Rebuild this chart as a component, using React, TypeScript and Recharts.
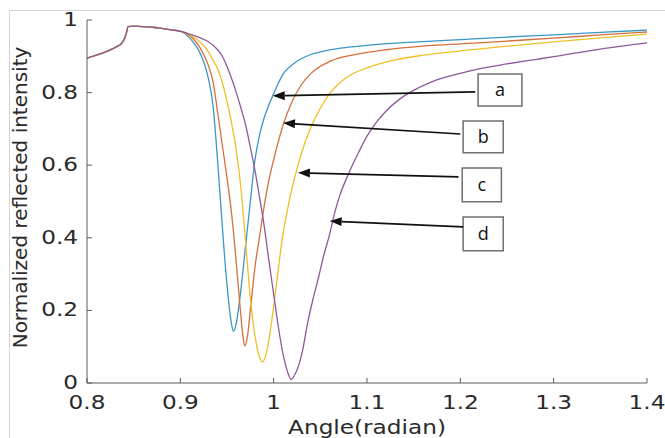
import React from "react";
import { LineChart, Line, XAxis, YAxis, ReferenceArea, ReferenceLine } from "recharts";

// part of the curve that all four samples share (before the resonance dip)
const sharedAngle = [0.8, 0.81, 0.82, 0.83, 0.835, 0.8375, 0.84, 0.842, 0.844, 0.85, 0.86, 0.87, 0.88, 0.89, 0.9];
const sharedIntensity = [0.895, 0.903, 0.912, 0.924, 0.931, 0.937, 0.948, 0.962, 0.982, 0.983, 0.982, 0.98, 0.977, 0.973, 0.969];

const angleA = [0.905, 0.91, 0.915, 0.92, 0.925, 0.93, 0.935, 0.94, 0.945, 0.95, 0.955, 0.957, 0.96, 0.965, 0.97, 0.975, 0.98, 0.985, 0.99, 0.995, 1.0, 1.005, 1.01, 1.02, 1.03, 1.04, 1.06, 1.08, 1.1, 1.15, 1.2, 1.25, 1.3, 1.35, 1.4];
const intensityA = [0.962, 0.95, 0.935, 0.915, 0.885, 0.84, 0.765, 0.61, 0.43, 0.27, 0.16, 0.142, 0.165, 0.26, 0.38, 0.5, 0.615, 0.685, 0.732, 0.767, 0.797, 0.826, 0.851, 0.877, 0.894, 0.905, 0.918, 0.925, 0.93, 0.939, 0.946, 0.953, 0.959, 0.966, 0.972];

const angleB = [0.905, 0.91, 0.915, 0.92, 0.925, 0.93, 0.935, 0.94, 0.945, 0.95, 0.955, 0.96, 0.964, 0.967, 0.969, 0.972, 0.975, 0.98, 0.985, 0.99, 0.995, 1.0, 1.005, 1.01, 1.02, 1.03, 1.04, 1.06, 1.09, 1.12, 1.16, 1.2, 1.25, 1.3, 1.35, 1.4];
const intensityB = [0.964, 0.957, 0.945, 0.928, 0.905, 0.875, 0.83, 0.745, 0.655, 0.565, 0.465, 0.33, 0.21, 0.13, 0.102, 0.13, 0.2, 0.32, 0.405, 0.49, 0.56, 0.615, 0.665, 0.71, 0.777, 0.823, 0.853, 0.886, 0.906, 0.918, 0.928, 0.934, 0.942, 0.95, 0.959, 0.967];

const angleC = [0.905, 0.91, 0.92, 0.93, 0.935, 0.94, 0.945, 0.95, 0.955, 0.96, 0.965, 0.97, 0.975, 0.98, 0.985, 0.988, 0.992, 0.995, 1.0, 1.005, 1.01, 1.015, 1.02, 1.025, 1.03, 1.04, 1.05, 1.06, 1.07, 1.08, 1.1, 1.13, 1.16, 1.2, 1.25, 1.3, 1.35, 1.4];
const intensityC = [0.965, 0.959, 0.942, 0.913, 0.89, 0.865, 0.828, 0.775, 0.715, 0.64, 0.535, 0.385, 0.235, 0.13, 0.07, 0.058, 0.08, 0.12, 0.21, 0.315, 0.41, 0.48, 0.54, 0.59, 0.635, 0.705, 0.757, 0.797, 0.825, 0.845, 0.868, 0.89, 0.903, 0.915, 0.928, 0.94, 0.951, 0.961];

const angleD = [0.91, 0.92, 0.93, 0.94, 0.945, 0.95, 0.955, 0.96, 0.965, 0.97, 0.975, 0.98, 0.985, 0.99, 0.995, 1.0, 1.005, 1.01, 1.015, 1.0186, 1.022, 1.027, 1.031, 1.036, 1.042, 1.048, 1.053, 1.06, 1.065, 1.07, 1.08, 1.09, 1.1, 1.11, 1.12, 1.135, 1.15, 1.17, 1.2, 1.225, 1.25, 1.28, 1.3, 1.35, 1.4];
const intensityD = [0.961, 0.952, 0.94, 0.918, 0.9, 0.872, 0.838, 0.8, 0.757, 0.71, 0.65, 0.585, 0.51, 0.43, 0.335, 0.245, 0.155, 0.08, 0.03, 0.01, 0.02, 0.05, 0.09, 0.16, 0.23, 0.29, 0.345, 0.41, 0.465, 0.51, 0.575, 0.63, 0.68, 0.718, 0.748, 0.782, 0.806, 0.83, 0.853, 0.868, 0.879, 0.891, 0.899, 0.92, 0.937];

const seriesNames = ["a", "b", "c", "d"];
const seriesColors = ["#3a97c6", "#d4703c", "#edc028", "#8c5a9c"];

const xTicks = [0.8, 0.9, 1, 1.1, 1.2, 1.3, 1.4];
const xTickLabels = ["0.8", "0.9", "1", "1.1", "1.2", "1.3", "1.4"];
const yTicks = [0, 0.2, 0.4, 0.6, 0.8, 1];
const yTickLabels = ["0", "0.2", "0.4", "0.6", "0.8", "1"];

// annotation boxes [x1, x2, y1, y2] and arrows [fromX, fromY, toX, toY], data units
const labelBoxes = [
  [1.219, 1.266, 0.763, 0.851],
  [1.203, 1.246, 0.634, 0.722],
  [1.202, 1.244, 0.499, 0.592],
  [1.203, 1.246, 0.364, 0.457],
];
const labelArrows = [
  [1.216, 0.802, 0.999, 0.791],
  [1.2, 0.686, 1.01, 0.716],
  [1.198, 0.568, 1.026, 0.579],
  [1.203, 0.43, 1.06, 0.446],
];

const toPoints = (angles: number[], values: number[]) =>
  [...sharedAngle, ...angles].map((angle, i) => ({
    angle,
    value: [...sharedIntensity, ...values][i],
  }));

const curves = [
  toPoints(angleA, intensityA),
  toPoints(angleB, intensityB),
  toPoints(angleC, intensityC),
  toPoints(angleD, intensityD),
];

const axisColor = "#5c5c5c";
const textColor = "#2a2a2a";
const font = "DejaVu Sans, Verdana, sans-serif";

const YTick = (props: any) => {
  const { x, y, payload } = props;
  const i = yTicks.indexOf(payload.value);
  return (
    <g transform={`translate(${x},${y})`}>
      <line x1={0} y1={0} x2={5} y2={0} stroke={axisColor} />
      <text transform="translate(-9,6) scale(1.16,1)" textAnchor="end" fontSize={20} fontFamily={font} fill={textColor}>
        {yTickLabels[i]}
      </text>
    </g>
  );
};

const XTick = (props: any) => {
  const { x, y, payload } = props;
  const i = xTicks.indexOf(payload.value);
  return (
    <g transform={`translate(${x},${y})`}>
      <line x1={0} y1={0} x2={0} y2={-5} stroke={axisColor} />
      <text transform="translate(0,26) scale(1.16,1)" textAnchor="middle" fontSize={20} fontFamily={font} fill={textColor}>
        {xTickLabels[i]}
      </text>
    </g>
  );
};

const XTitle = (props: any) => {
  const vb = props.viewBox;
  return (
    <text
      transform={`translate(${vb.x + vb.width / 2},${vb.y + 51}) scale(1.16,1)`}
      textAnchor="middle"
      fontSize={20}
      fontFamily={font}
      fill={textColor}
    >
      Angle(radian)
    </text>
  );
};

const YTitle = (props: any) => {
  const vb = props.viewBox;
  return (
    <text
      transform={`translate(27,${vb.y + vb.height / 2 - 4}) rotate(-90)`}
      textAnchor="middle"
      fontSize={20}
      fontFamily={font}
      fill={textColor}
    >
      Normalized reflected intensity
    </text>
  );
};

const Arrow = (props: any) => {
  const { x1, y1, x2, y2 } = props;
  const ang = Math.atan2(y2 - y1, x2 - x1);
  const len = 12;
  const half = 4.5;
  const bx = x2 - len * Math.cos(ang);
  const by = y2 - len * Math.sin(ang);
  const px = -Math.sin(ang) * half;
  const py = Math.cos(ang) * half;
  return (
    <g>
      <line x1={x1} y1={y1} x2={bx} y2={by} stroke="#111" strokeWidth={1.7} />
      <polygon points={`${x2},${y2} ${bx + px},${by + py} ${bx - px},${by - py}`} fill="#111" />
    </g>
  );
};

export default function App() {
  return (
    <div style={{ position: "absolute", left: 0, top: 0, width: 665, height: 438, background: "#fff" }}>
      <div
        style={{
          position: "absolute",
          left: 9,
          top: 10,
          width: 656,
          height: 428,
          borderTop: "1px solid #d4d4d4",
          borderLeft: "1px solid #d4d4d4",
        }}
      />
      <LineChart
        width={665}
        height={438}
        margin={{ top: 20, right: 18, bottom: 0, left: 0 }}
        style={{ position: "absolute", left: 0, top: 0 }}
      >
        <XAxis
          dataKey="angle"
          type="number"
          domain={[0.8, 1.4]}
          ticks={xTicks}
          allowDataOverflow
          height={55}
          tickLine={false}
          tickSize={0}
          tickMargin={0}
          tick={<XTick />}
          axisLine={{ stroke: axisColor, strokeWidth: 1 }}
          label={{ content: XTitle }}
        />
        <YAxis
          type="number"
          domain={[0, 1]}
          ticks={yTicks}
          width={87}
          tickLine={false}
          tickSize={0}
          tickMargin={0}
          tick={<YTick />}
          axisLine={{ stroke: axisColor, strokeWidth: 1 }}
          label={{ content: YTitle }}
        />
        {curves.map((pts, i) => (
          <Line
            key={seriesNames[i]}
            data={pts}
            dataKey="value"
            name={seriesNames[i]}
            type="monotone"
            stroke={seriesColors[i]}
            strokeWidth={1.3}
            dot={false}
            activeDot={false}
            isAnimationActive={false}
          />
        ))}
        {labelBoxes.map((b, i) => (
          <ReferenceArea
            key={"box" + i}
            x1={b[0]}
            x2={b[1]}
            y1={b[2]}
            y2={b[3]}
            fill="#fff"
            fillOpacity={1}
            stroke="#707070"
            strokeWidth={1.5}
            ifOverflow="visible"
            label={{ value: seriesNames[i], position: "center", fontSize: 18, fill: "#111", fontFamily: "Open Sans, sans-serif" }}
          />
        ))}
        {labelArrows.map((a, i) => (
          <ReferenceLine
            key={"arrow" + i}
            segment={[
              { x: a[0], y: a[1] },
              { x: a[2], y: a[3] },
            ]}
            shape={Arrow}
            ifOverflow="visible"
          />
        ))}
      </LineChart>
    </div>
  );
}
